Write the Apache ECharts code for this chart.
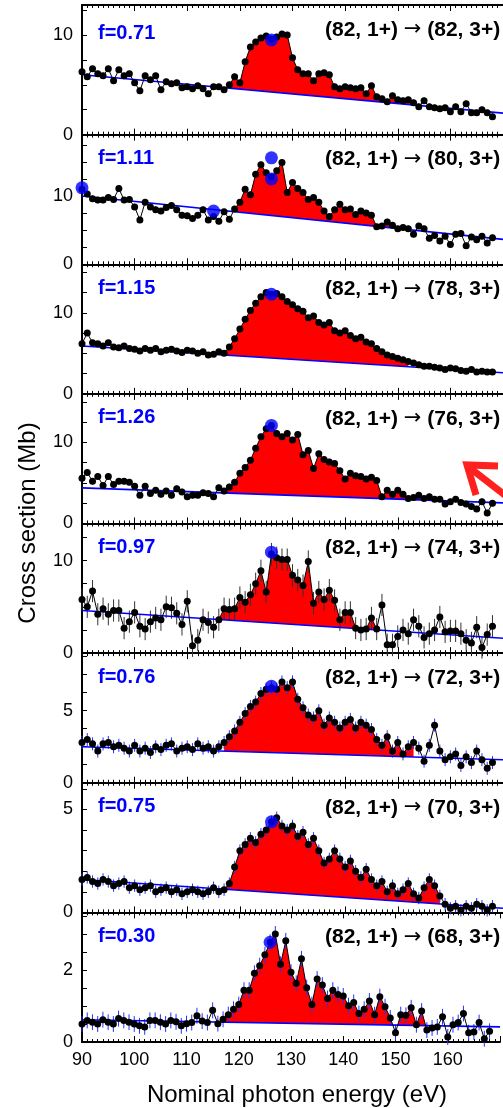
<!DOCTYPE html>
<html>
<head>
<meta charset="utf-8">
<script src="https://cdn.jsdelivr.net/npm/echarts@6/dist/echarts.min.js"></script>
<style>
  html, body { margin: 0; padding: 0; background: #fff; }
  #chart { width: 503px; height: 1108px; }
</style>
</head>
<body>
<div id="chart"></div>
<script>
// photon energies (eV)
const energies = [90, 91, 92, 93, 94, 95, 96, 97, 98, 99,
  100, 101, 102, 103, 104, 105, 106, 107, 108, 109,
  110, 111, 112, 113, 114, 115, 116, 117, 118, 119,
  120, 121, 122, 123, 124, 125, 126, 127, 128, 129,
  130, 131, 132, 133, 134, 135, 136, 137, 138, 139,
  140, 141, 142, 143, 144, 145, 146, 147, 148, 149,
  150, 151, 152, 153, 154, 155, 156, 157, 158, 159,
  160, 161, 162, 163, 164, 165, 166, 167, 168];

// cross sections (Mb), one array per product channel
const cs82 = [6.3, 5.8, 6.6, 6.1, 5.9, 6.6, 5.4, 6.5, 5.9, 6.1,
  5.2, 4.4, 5.9, 5.5, 5.9, 4.5, 5.3, 5.1, 5.2, 4.7,
  4.8, 4.6, 4.9, 4.6, 4.1, 4.8, 4.8, 4.5, 5.0, 5.8,
  5.2, 7.3, 8.8, 9.3, 9.7, 9.9, 9.6, 9.8, 10.1, 10.0,
  7.7, 6.5, 6.1, 6.1, 5.4, 6.1, 6.2, 6.0, 4.8, 4.6,
  4.8, 4.7, 4.6, 4.7, 4.1, 4.9, 3.8, 3.6, 3.3, 3.9,
  3.5, 3.4, 3.5, 3.2, 2.8, 3.4, 2.8, 2.7, 2.6, 2.7,
  2.3, 2.8, 2.3, 3.1, 2.2, 2.2, 2.5, 2.2, 1.8];
const cs80 = [11.0, 10.3, 9.6, 9.4, 9.4, 9.8, 9.5, 11.1, 9.4, 9.5,
  8.4, 6.5, 9.1, 8.4, 8.0, 7.8, 8.3, 8.6, 8.0, 7.2,
  7.1, 6.7, 7.2, 8.0, 6.5, 7.0, 6.3, 7.7, 6.6, 8.1,
  9.1, 11.0, 10.2, 13.2, 14.6, 13.4, 12.8, 13.7, 14.9, 10.5,
  12.0, 11.1, 10.5, 9.5, 9.8, 9.1, 7.8, 7.0, 8.0, 8.8,
  8.0, 8.1, 7.3, 7.8, 7.5, 7.2, 5.5, 5.6, 6.2, 5.7,
  5.2, 5.4, 5.2, 4.4, 5.6, 5.2, 3.8, 4.2, 3.4, 4.1,
  2.9, 4.4, 4.5, 2.7, 4.0, 3.6, 4.1, 3.1, 3.9];
const cs78 = [6.2, 7.5, 6.3, 6.2, 5.9, 6.3, 5.8, 5.7, 5.9, 5.6,
  5.5, 5.3, 5.6, 5.4, 5.6, 5.2, 5.4, 5.5, 5.3, 5.1,
  5.4, 5.3, 5.0, 5.2, 4.8, 4.9, 5.2, 5.0, 5.8, 6.8,
  8.0, 9.2, 10.3, 11.2, 12.0, 12.5, 12.3, 12.4, 12.0, 11.4,
  11.0, 10.5, 10.2, 9.4, 9.6, 8.8, 8.5, 8.8, 7.8, 7.5,
  7.8, 7.2, 6.8, 7.0, 6.4, 6.2, 5.6, 5.2, 4.8, 4.6,
  4.4, 4.2, 4.0, 3.8, 3.6, 3.4, 3.4, 3.3, 3.2, 3.0,
  3.2, 3.1, 2.9, 2.8, 3.0, 2.7, 2.8, 2.7, 2.7];
const cs76 = [5.6, 6.3, 5.2, 5.8, 4.7, 5.8, 4.8, 5.2, 5.2, 5.1,
  4.6, 3.5, 4.6, 3.7, 4.1, 3.6, 4.0, 3.5, 4.3, 3.9,
  3.3, 3.5, 3.5, 3.8, 3.7, 3.3, 4.4, 4.0, 4.5, 5.1,
  6.2, 6.9, 7.8, 9.3, 10.7, 11.7, 12.1, 11.1, 10.7, 11.1,
  10.3, 11.0, 8.5, 9.0, 6.8, 8.6, 7.9, 7.6, 7.4, 6.5,
  5.5, 6.2, 5.9, 5.8, 5.5, 5.7, 5.3, 3.3, 4.1, 3.6,
  4.1, 3.6, 3.1, 3.2, 3.5, 3.1, 3.3, 3.0, 3.0, 2.4,
  2.7, 3.0, 2.6, 2.4, 2.1, 1.8, 2.7, 1.3, 2.5];
const cs74 = [5.8, 5.0, 6.7, 4.2, 4.8, 4.2, 4.6, 4.6, 2.7, 3.4,
  4.4, 2.9, 2.6, 3.4, 3.8, 3.6, 5.0, 4.9, 4.3, 3.1,
  5.6, 0.8, 1.4, 3.6, 3.3, 2.8, 3.6, 4.8, 4.7, 4.8,
  6.0, 5.5, 6.3, 7.5, 8.9, 6.6, 10.7, 10.3, 10.1, 10.1,
  8.4, 7.9, 7.3, 9.9, 5.4, 6.6, 5.8, 6.8, 5.7, 3.6,
  4.4, 4.4, 2.7, 2.5, 2.6, 3.8, 2.6, 5.2, 0.9, 0.9,
  1.8, 2.5, 2.1, 3.6, 2.9, 1.7, 2.1, 2.5, 3.9, 2.3,
  2.4, 2.4, 2.1, 1.4, 1.1, 2.8, 0.6, 2.0, 2.9];
const cs72 = [2.8, 3.0, 2.7, 2.2, 2.7, 2.8, 2.5, 2.6, 2.4, 2.2,
  2.6, 2.2, 2.4, 2.1, 2.5, 2.3, 2.6, 2.7, 2.2, 2.4,
  2.5, 2.3, 2.7, 2.4, 2.5, 2.2, 2.5, 2.8, 3.2, 3.6,
  4.2, 4.8, 5.3, 5.6, 6.2, 6.5, 6.6, 6.5, 7.0, 6.6,
  7.0, 5.8, 5.2, 4.7, 4.5, 5.0, 4.0, 4.5, 4.2, 3.8,
  4.2, 4.4, 3.8, 4.2, 4.0, 3.7, 3.0, 2.6, 3.2, 2.2,
  2.8, 2.0, 2.5, 2.8, 2.4, 1.5, 2.6, 4.0, 2.2, 1.6,
  1.8, 2.0, 1.2, 1.8, 1.4, 2.2, 1.6, 1.0, 1.4];
const cs70 = [1.6, 1.7, 1.5, 1.4, 1.6, 1.5, 1.3, 1.4, 1.5, 1.2,
  1.3, 1.1, 1.2, 1.3, 1.0, 1.1, 1.2, 1.0, 1.1, 0.9,
  1.0, 1.1, 1.0, 0.9, 1.0, 1.2, 1.0, 1.1, 1.4, 2.2,
  3.0, 3.3, 3.6, 3.4, 3.8, 4.0, 4.4, 4.6, 4.2, 4.0,
  4.2, 3.7, 3.9, 3.3, 3.6, 3.0, 2.4, 2.6, 3.0, 2.6,
  2.2, 2.5, 2.0, 1.7, 2.1, 1.6, 1.3, 1.5, 1.0, 1.3,
  0.9, 1.1, 1.4, 0.9, 0.7, 1.2, 1.6, 1.3, 0.8, 0.4,
  0.2, 0.3, 0.1, 0.3, 0.2, 0.4, 0.3, 0.1, 0.3];
const cs68 = [0.5, 0.6, 0.55, 0.5, 0.62, 0.55, 0.5, 0.65, 0.6, 0.55,
  0.5, 0.45, 0.42, 0.6, 0.6, 0.55, 0.5, 0.6, 0.56, 0.45,
  0.51, 0.54, 0.73, 0.58, 0.54, 0.88, 0.51, 0.63, 0.76, 0.91,
  1.04, 1.44, 1.44, 1.91, 2.12, 2.42, 2.77, 3.0, 2.16, 2.81,
  1.94, 1.63, 2.31, 1.51, 1.04, 1.75, 1.58, 1.21, 1.44, 1.32,
  1.28, 1.01, 1.1, 0.79, 0.91, 1.14, 0.76, 1.26, 0.98, 0.67,
  0.26, 0.76, 0.74, 0.95, 0.48, 0.86, 0.33, 0.39, 0.42, 0.7,
  0.14, 0.48, 0.54, 0.79, 0.26, 0.28, 0.54, 0.09, 0.3];

const panels = [cs82, cs80, cs78, cs76, cs74, cs72, cs70, cs68];
const fLabels = ['f=0.71', 'f=1.11', 'f=1.15', 'f=1.26', 'f=0.97', 'f=0.76', 'f=0.75', 'f=0.30'];
const products = ['82', '80', '78', '76', '74', '72', '70', '68'];
// background line: value at 90 eV and at 170 eV
const baselines = [[6.0, 2.16], [10.0, 3.65], [5.9, 2.6], [4.4, 2.55], [4.6, 1.6], [2.5, 1.6], [1.6, 0.2], [0.62, 0.42]];
// energy range of the red resonance area
const fillRanges = [[118, 153], [117, 153], [117, 152], [117, 155], [116, 146], [117, 153], [117, 158], [116, 156]];
const errSize = [0.3, 0.45, 0.3, 0.4, 1.2, 0.45, 0.3, 0.22];
const errColor = ['#000', '#000', '#000', '#2233ff', '#333', '#2233ff', '#2233ff', '#2233ff'];
// blue marker points [eV, Mb]
const blueDots = [
  [[126, 9.5]],
  [[126, 15.6], [126, 12.5], [90, 11.2], [115, 7.8]],
  [[126, 12.3]],
  [[126, 12.1]],
  [[126, 10.9]],
  [[126, 6.7]],
  [[126, 4.4]],
  [[126, 2.77]]
];
// y axes
const yMax = [13, 19, 16, 16, 14, 9, 6.3, 3.6];
const yMajor = [10, 10, 10, 10, 10, 5, 5, 2];
const yMinor = [2.5, 2.5, 2.5, 2.5, 2.5, 1.25, 1, 0.5];
const xTicks = [90, 100, 110, 120, 130, 140, 150, 160];

const FONT = '"Liberation Sans", Arial, sans-serif';
const plotTop = 5, plotBottom = 1042;
const H = (plotBottom - plotTop) / 8;

const chart = echarts.init(document.getElementById('chart'));

const grids = [], xAxes = [], yAxes = [], series = [], graphics = [];

function fillRenderer(i) {
  return function (params, api) {
    const vals = panels[i];
    const b0 = baselines[i][0], b1 = baselines[i][1];
    const fs = fillRanges[i][0], fe = fillRanges[i][1];
    const base = x => b0 + (b1 - b0) * (x - 90) / 80;
    const pts = [];
    energies.forEach((x, k) => { if (x >= fs && x <= fe) pts.push([x, vals[k]]); });
    const polys = [];
    let poly = [];
    for (let k = 0; k < pts.length; k++) {
      const x = pts[k][0], y = pts[k][1];
      const d = y - base(x);
      if (k > 0) {
        const px = pts[k - 1][0], py = pts[k - 1][1];
        const pd = py - base(px);
        if ((pd >= 0) !== (d >= 0)) {
          const t = pd / (pd - d);
          const cx = px + t * (x - px);
          poly.push([cx, base(cx)]);
          if (d < 0) { polys.push(poly); poly = []; }
        }
      } else if (d >= 0) {
        poly.push([x, base(x)]);
      }
      if (d >= 0) poly.push([x, y]);
    }
    if (poly.length) {
      const lx = pts[pts.length - 1][0];
      poly.push([lx, base(lx)]);
      polys.push(poly);
    }
    return {
      type: 'group',
      children: polys.map(p => ({
        type: 'polygon',
        shape: { points: p.map(q => api.coord(q)) },
        style: { fill: '#ff0000' }
      }))
    };
  };
}

for (let i = 0; i < 8; i++) {
  const top = plotTop + i * H;
  grids.push({ left: 82, width: 430, top: top, height: H });

  const xCommon = {
    type: 'value', gridIndex: i, min: 90, max: 170, interval: 10,
    axisLine: { show: true, onZero: false, lineStyle: { color: '#000', width: 2 } },
    axisTick: { show: true, inside: true, length: 6, lineStyle: { color: '#000', width: 1 } },
    minorTick: { show: true, splitNumber: 10, length: 3, lineStyle: { color: '#000', width: 1 } },
    splitLine: { show: false }
  };
  xAxes.push(Object.assign({}, xCommon, {
    position: 'bottom',
    axisLabel: {
      show: i === 7, color: '#000', fontSize: 18, fontFamily: FONT, margin: 9,
      formatter: v => (xTicks.indexOf(v) >= 0 ? String(v) : '')
    }
  }));
  xAxes.push(Object.assign({}, xCommon, { position: 'top', axisLabel: { show: false } }));

  const major = yMajor[i];
  yAxes.push({
    type: 'value', gridIndex: i, min: 0, max: yMax[i], interval: yMinor[i],
    axisLine: { show: true, lineStyle: { color: '#000', width: 2 } },
    axisTick: { show: true, inside: true, length: 5, lineStyle: { color: '#000', width: 1 } },
    splitLine: { show: false },
    axisLabel: {
      color: '#000', fontSize: 18, fontFamily: FONT, margin: 9,
      formatter: v => {
        const r = v / major;
        return (Math.abs(r - Math.round(r)) < 1e-6 && v < yMax[i] - 1e-6) ? String(Math.round(v)) : '';
      }
    }
  });

  const xi = 2 * i;
  const vals = panels[i];
  const pairs = energies.map((x, k) => [x, vals[k]]);

  series.push({
    type: 'custom', xAxisIndex: xi, yAxisIndex: i, z: 1, silent: true,
    data: [[fillRanges[i][0], 0]],
    renderItem: fillRenderer(i)
  });
  series.push({
    type: 'line', xAxisIndex: xi, yAxisIndex: i, z: 3, silent: true,
    data: [[90, baselines[i][0]], [170, baselines[i][1]]],
    symbol: 'none', lineStyle: { color: '#0000ff', width: 1.6 }
  });
  series.push({
    type: 'custom', xAxisIndex: xi, yAxisIndex: i, z: 2, silent: true,
    data: pairs,
    renderItem: (params, api) => {
      const x = api.value(0), y = api.value(1), e = errSize[i];
      const a = api.coord([x, y - e]), b = api.coord([x, y + e]);
      return {
        type: 'line',
        shape: { x1: a[0], y1: a[1], x2: b[0], y2: b[1] },
        style: { stroke: errColor[i], lineWidth: 1 }
      };
    }
  });
  series.push({
    type: 'line', xAxisIndex: xi, yAxisIndex: i, z: 4, silent: true,
    data: pairs, symbol: 'circle', symbolSize: 7,
    itemStyle: { color: '#000' }, lineStyle: { color: '#000', width: 1 }
  });
  series.push({
    type: 'scatter', xAxisIndex: xi, yAxisIndex: i, z: 5, silent: true,
    data: blueDots[i], symbolSize: 13, itemStyle: { color: '#0000ff' }
  });

  graphics.push({
    type: 'text', x: 98, y: top + (i === 0 ? 28 : 24), z: 10,
    style: { text: fLabels[i], fill: '#0000ff', font: 'bold 20px ' + FONT, verticalAlign: 'middle', align: 'left' }
  });
  graphics.push({
    type: 'text', x: 325, y: top + 25, z: 10,
    style: {
      text: '(82, 1+) {a|\u2192} (' + products[i] + ', 3+)',
      fill: '#000', font: 'bold 21px ' + FONT, verticalAlign: 'middle', align: 'left',
      rich: { a: { fontFamily: '"DejaVu Sans"', fontSize: 21, fontWeight: 'normal', fill: '#000' } }
    }
  });
}

// axis titles
graphics.push({
  type: 'text', x: 28, y: 523, rotation: Math.PI / 2, z: 10,
  style: { text: 'Cross section (Mb)', fill: '#000', font: '24px ' + FONT, align: 'center', verticalAlign: 'middle' }
});
graphics.push({
  type: 'text', x: 297, y: 1095, z: 10,
  style: { text: 'Nominal photon energy (eV)', fill: '#000', font: '24px ' + FONT, align: 'center', verticalAlign: 'middle' }
});
// red arrow in the (76, 3+) panel
graphics.push({
  type: 'line', z: 10,
  shape: { x1: 470, y1: 468, x2: 515, y2: 503 },
  style: { stroke: '#ff2020', lineWidth: 7 }
});
graphics.push({
  type: 'polyline', z: 10,
  shape: { points: [[498, 466], [467, 465], [476, 495]] },
  style: { stroke: '#ff2020', lineWidth: 7, fill: null, lineJoin: 'miter' }
});

chart.setOption({
  animation: false,
  backgroundColor: '#fff',
  grid: grids,
  xAxis: xAxes,
  yAxis: yAxes,
  series: series,
  graphic: graphics
});
</script>
</body>
</html>
